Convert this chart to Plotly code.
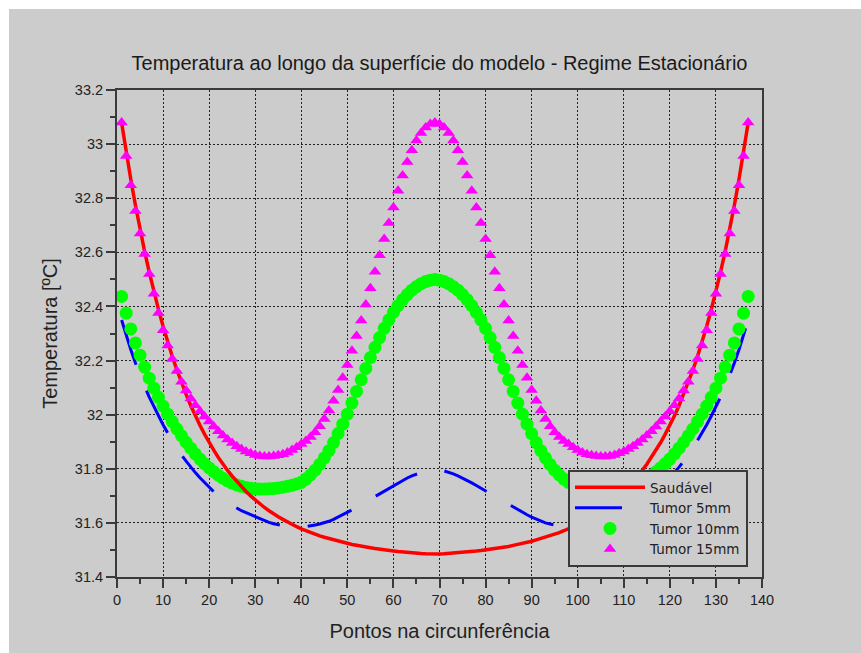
import plotly.graph_objects as go

x_pts = list(range(1, 138))

saudavel = [
    33.079, 32.970, 32.869, 32.774, 32.685, 32.603, 32.527, 32.455, 32.389, 32.327,
    32.269, 32.215, 32.165, 32.118, 32.075, 32.034, 31.996, 31.961, 31.928, 31.897,
    31.869, 31.842, 31.817, 31.794, 31.773, 31.753, 31.734, 31.716, 31.700, 31.685,
    31.671, 31.657, 31.645, 31.633, 31.623, 31.613, 31.603, 31.594, 31.586, 31.578,
    31.571, 31.564, 31.558, 31.552, 31.547, 31.542, 31.537, 31.532, 31.528, 31.524,
    31.520, 31.517, 31.513, 31.510, 31.508, 31.505, 31.502, 31.500, 31.498, 31.496,
    31.494, 31.492, 31.491, 31.489, 31.488, 31.487, 31.486, 31.485, 31.484,
    31.485, 31.486, 31.487, 31.488, 31.489, 31.491, 31.492, 31.494, 31.496,
    31.498, 31.500, 31.502, 31.505, 31.508, 31.510, 31.513, 31.517, 31.520, 31.524,
    31.528, 31.532, 31.537, 31.542, 31.547, 31.552, 31.558, 31.564, 31.571, 31.578,
    31.586, 31.594, 31.603, 31.613, 31.623, 31.633, 31.645, 31.657, 31.671, 31.685,
    31.700, 31.716, 31.734, 31.753, 31.773, 31.794, 31.817, 31.842, 31.869, 31.897,
    31.928, 31.961, 31.996, 32.034, 32.075, 32.118, 32.165, 32.215, 32.269, 32.327,
    32.389, 32.455, 32.527, 32.603, 32.685, 32.774, 32.869, 32.970, 33.079,
]

tumor5 = [
    32.350, 32.293, 32.240, 32.191, 32.146, 32.104, 32.065, 32.029, 31.995, 31.963,
    31.933, 31.905, 31.877, 31.851, 31.828, 31.806, 31.786, 31.767, 31.749, 31.731,
    31.715, 31.700, 31.688, 31.676, 31.665, 31.655, 31.645, 31.638, 31.630, 31.623,
    31.615, 31.608, 31.602, 31.597, 31.593, 31.590, 31.588, 31.587, 31.586, 31.586,
    31.587, 31.589, 31.592, 31.596, 31.600, 31.606, 31.613, 31.621, 31.630, 31.639,
    31.648, 31.658, 31.668, 31.678, 31.688, 31.698, 31.708, 31.718, 31.728, 31.738,
    31.748, 31.757, 31.766, 31.774, 31.781, 31.787, 31.792, 31.795, 31.796,
    31.795, 31.792, 31.787, 31.781, 31.774, 31.766, 31.757, 31.748, 31.738,
    31.728, 31.718, 31.708, 31.698, 31.688, 31.678, 31.668, 31.658, 31.648, 31.639,
    31.630, 31.621, 31.613, 31.606, 31.600, 31.596, 31.592, 31.589, 31.587, 31.586,
    31.586, 31.587, 31.588, 31.590, 31.593, 31.597, 31.602, 31.608, 31.615, 31.623,
    31.630, 31.638, 31.645, 31.655, 31.665, 31.676, 31.688, 31.700, 31.715, 31.731,
    31.749, 31.767, 31.786, 31.806, 31.828, 31.851, 31.877, 31.905, 31.933, 31.963,
    31.995, 32.029, 32.065, 32.104, 32.146, 32.191, 32.240, 32.293, 32.350,
]

tumor10 = [
    32.437, 32.375, 32.317, 32.265, 32.220, 32.176, 32.135, 32.098, 32.064, 32.032,
    32.002, 31.974, 31.947, 31.922, 31.898, 31.876, 31.855, 31.836, 31.819, 31.803,
    31.789, 31.776, 31.765, 31.755, 31.747, 31.740, 31.735, 31.731, 31.728, 31.726,
    31.725, 31.725, 31.726, 31.727, 31.729, 31.732, 31.735, 31.739, 31.744, 31.750,
    31.762, 31.777, 31.795, 31.816, 31.840, 31.867, 31.897, 31.930, 31.965, 32.002,
    32.043, 32.086, 32.129, 32.171, 32.211, 32.249, 32.285, 32.319, 32.350, 32.378,
    32.403, 32.425, 32.444, 32.460, 32.473, 32.484, 32.492, 32.497, 32.500,
    32.497, 32.492, 32.484, 32.473, 32.460, 32.444, 32.425, 32.403, 32.378,
    32.350, 32.319, 32.285, 32.249, 32.211, 32.171, 32.129, 32.086, 32.043, 32.002,
    31.965, 31.930, 31.897, 31.867, 31.840, 31.816, 31.795, 31.777, 31.762, 31.750,
    31.744, 31.739, 31.735, 31.732, 31.729, 31.727, 31.726, 31.725, 31.725, 31.726,
    31.728, 31.731, 31.735, 31.740, 31.747, 31.755, 31.765, 31.776, 31.789, 31.803,
    31.819, 31.836, 31.855, 31.876, 31.898, 31.922, 31.947, 31.974, 32.002, 32.032,
    32.064, 32.098, 32.135, 32.176, 32.220, 32.265, 32.317, 32.375, 32.437,
]

tumor15 = [
    33.080, 32.956, 32.848, 32.753, 32.670, 32.594, 32.520, 32.447, 32.376, 32.312,
    32.256, 32.206, 32.161, 32.122, 32.089, 32.060, 32.035, 32.013, 31.993, 31.975,
    31.956, 31.939, 31.923, 31.908, 31.895, 31.883, 31.873, 31.864, 31.857, 31.851,
    31.847, 31.845, 31.845, 31.847, 31.850, 31.854, 31.860, 31.869, 31.880, 31.892,
    31.903, 31.917, 31.935, 31.957, 31.984, 32.015, 32.051, 32.091, 32.136, 32.184,
    32.236, 32.291, 32.348, 32.407, 32.467, 32.528, 32.589, 32.649, 32.708, 32.766,
    32.828, 32.884, 32.934, 32.977, 33.013, 33.041, 33.061, 33.074, 33.080,
    33.074, 33.061, 33.041, 33.013, 32.977, 32.934, 32.884, 32.828, 32.766,
    32.708, 32.649, 32.589, 32.528, 32.467, 32.407, 32.348, 32.291, 32.236, 32.184,
    32.136, 32.091, 32.051, 32.015, 31.984, 31.957, 31.935, 31.917, 31.903, 31.892,
    31.880, 31.869, 31.860, 31.854, 31.850, 31.847, 31.845, 31.845, 31.847, 31.851,
    31.857, 31.864, 31.873, 31.883, 31.895, 31.908, 31.923, 31.939, 31.956, 31.975,
    31.993, 32.013, 32.035, 32.060, 32.089, 32.122, 32.161, 32.206, 32.256, 32.312,
    32.376, 32.447, 32.520, 32.594, 32.670, 32.753, 32.848, 32.956, 33.080,
]

series_names = ["Saudável", "Tumor 5mm", "Tumor 10mm", "Tumor 15mm"]
x_tick_vals = list(range(0, 141, 10))
y_tick_vals = [31.4, 31.6, 31.8, 32.0, 32.2, 32.4, 32.6, 32.8, 33.0, 33.2]
y_tick_text = ["31.4", "31.6", "31.8", "32", "32.2", "32.4", "32.6", "32.8", "33", "33.2"]

GREY = "#cccccc"
AXC = "#3a3a3a"
FONT = "Liberation Sans, Arial, sans-serif"
W, H = 861, 653
L, R, T, B = 117, 99, 90, 76
PW, PH = W - L - R, H - T - B

fig = go.Figure()
# drawing order: blue, green, red, magenta (legend keeps the original order via legendrank)
fig.add_trace(go.Scatter(x=x_pts, y=tumor5, mode="lines", name=series_names[1], legendrank=2,
                         legendgroup="b", line=dict(color="#0000ff", width=3, dash="47px,28px")))
fig.add_trace(go.Scatter(x=x_pts, y=tumor10, mode="markers", name=series_names[2], legendrank=3,
                         legendgroup="c", marker=dict(color="#00ff00", size=13, symbol="circle")))
fig.add_trace(go.Scatter(x=x_pts, y=saudavel, mode="lines", name=series_names[0], legendrank=1,
                         legendgroup="a", line=dict(color="#ff0000", width=3.5)))
fig.add_trace(go.Scatter(x=x_pts, y=tumor15, mode="markers", name=series_names[3], legendrank=4,
                         legendgroup="d", marker=dict(color="#ff00ff", size=11, symbol="triangle-up")))

axis_common = dict(
    showline=True, linecolor=AXC, linewidth=2, mirror=True,
    ticks="outside", ticklen=9, tickwidth=1.5, tickcolor=AXC,
    showgrid=True, gridcolor="#222222", gridwidth=1, griddash="2px,2px",
    zeroline=False,
    tickfont=dict(family=FONT, size=14.5, color="#222222"),
)

fig.update_xaxes(range=[0, 140], tickvals=x_tick_vals, **axis_common,
                 minor=dict(tickvals=list(range(5, 140, 10)), ticklen=5, tickwidth=1.5,
                            tickcolor=AXC, ticks="outside", showgrid=False),
                 title=dict(text="Pontos na circunferência", standoff=17,
                            font=dict(family=FONT, size=20, color="#222222")))
fig.update_yaxes(range=[31.4, 33.2], tickvals=y_tick_vals, ticktext=y_tick_text, **axis_common,
                 minor=dict(tickvals=[31.5, 31.7, 31.9, 32.1, 32.3, 32.5, 32.7, 32.9, 33.1],
                            ticklen=5, tickwidth=1.5, tickcolor=AXC, ticks="outside", showgrid=False),
                 title=dict(text="Temperatura [ºC]", standoff=12,
                            font=dict(family=FONT, size=20, color="#222222")))

fig.update_layout(
    width=W, height=H,
    margin=dict(l=L, r=R, t=T, b=B),
    paper_bgcolor=GREY,
    plot_bgcolor=GREY,
    title=dict(text="Temperatura ao longo da superfície do modelo - Regime Estacionário",
               x=0.5, xref="paper", xanchor="center",
               y=1 - 63 / H, yref="container", yanchor="middle",
               font=dict(family=FONT, size=20, color="#1a1a1a")),
    legend=dict(x=(568 - L) / PW, y=(H - B - 470) / PH,
                xanchor="left", yanchor="top", traceorder="normal",
                bgcolor=GREY, bordercolor=AXC, borderwidth=2,
                itemwidth=70, tracegroupgap=2.5,
                font=dict(family="DejaVu Sans, sans-serif", size=13.5, color="#222222")),
    shapes=[
        dict(type="rect", xref="paper", yref="paper",
             x0=-L / PW, x1=(W - L) / PW,
             y0=(H - B - 9) / PH, y1=(H - B) / PH,
             fillcolor="white", line=dict(width=0), layer="below"),
        dict(type="rect", xref="paper", yref="paper",
             x0=-L / PW, x1=(9 - L) / PW,
             y0=-B / PH, y1=(H - B) / PH,
             fillcolor="white", line=dict(width=0), layer="below"),
    ],
)

fig.write_html("out.html")
